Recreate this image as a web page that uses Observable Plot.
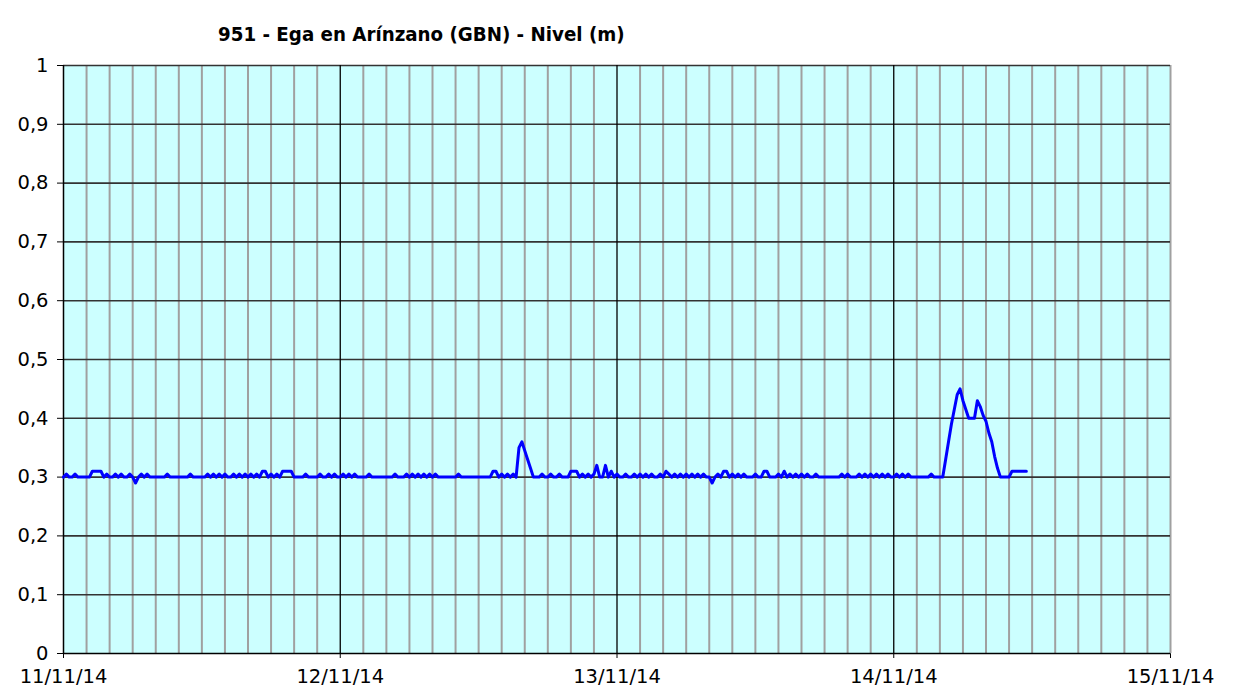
<!DOCTYPE html>
<html>
<head>
<meta charset="utf-8">
<script src="https://cdn.jsdelivr.net/npm/d3@7"></script>
<script src="https://cdn.jsdelivr.net/npm/@observablehq/plot@0.6"></script>
<style>
  html, body { margin: 0; padding: 0; background: #ffffff; }
  #wrap { position: relative; width: 1251px; height: 688px; overflow: hidden; }
  #title { position: absolute; left: 218px; top: 22px; white-space: nowrap;
           font-family: "DejaVu Sans Condensed", "DejaVu Sans", sans-serif; font-stretch: condensed;
           font-weight: bold; font-size: 20px; line-height: 24px; color: #000; }
  #chart { position: absolute; left: 0; top: 0; }
</style>
</head>
<body>
<div id="wrap"><div id="chart"></div><div id="title">951 - Ega en Arínzano (GBN) - Nivel (m)</div></div>
<script>
// ---- data (15-minute readings, level in m) ----
const dayStarts = ["2014-11-11", "2014-11-12", "2014-11-13", "2014-11-14"];
const stepMinutes = 15;

const level11 = [
  0.30,0.305,0.30,0.30,0.305,0.30,0.30,0.30,0.30,0.30,
  0.31,0.31,0.31,0.31,0.30,0.305,0.30,0.30,0.305,0.30,
  0.305,0.30,0.30,0.305,0.30,0.29,0.30,0.305,0.30,0.305,
  0.30,0.30,0.30,0.30,0.30,0.30,0.305,0.30,0.30,0.30,
  0.30,0.30,0.30,0.30,0.305,0.30,0.30,0.30,0.30,0.30,
  0.305,0.30,0.305,0.30,0.305,0.30,0.305,0.30,0.30,0.305,
  0.30,0.305,0.30,0.305,0.30,0.305,0.30,0.305,0.30,0.31,
  0.31,0.30,0.305,0.30,0.305,0.30,0.31,0.31,0.31,0.31,
  0.30,0.30,0.30,0.30,0.305,0.30,0.30,0.30,0.30,0.305,
  0.30,0.30,0.305,0.30,0.305,0.30
];
const level12 = [
  0.30,0.305,0.30,0.305,0.30,0.305,0.30,0.30,0.30,0.30,
  0.305,0.30,0.30,0.30,0.30,0.30,0.30,0.30,0.30,0.305,
  0.30,0.30,0.30,0.305,0.30,0.305,0.30,0.305,0.30,0.305,
  0.30,0.305,0.30,0.305,0.30,0.30,0.30,0.30,0.30,0.30,
  0.30,0.305,0.30,0.30,0.30,0.30,0.30,0.30,0.30,0.30,
  0.30,0.30,0.30,0.31,0.31,0.30,0.305,0.30,0.305,0.30,
  0.305,0.30,0.35,0.36,0.345,0.33,0.315,0.30,0.30,0.30,
  0.305,0.30,0.30,0.305,0.30,0.30,0.305,0.30,0.30,0.30,
  0.31,0.31,0.31,0.30,0.305,0.30,0.305,0.30,0.305,0.32,
  0.30,0.30,0.32,0.30,0.31,0.30
];
const level13 = [
  0.305,0.30,0.30,0.305,0.30,0.30,0.305,0.30,0.305,0.30,
  0.305,0.30,0.305,0.30,0.30,0.305,0.30,0.31,0.305,0.30,
  0.305,0.30,0.305,0.30,0.305,0.30,0.305,0.30,0.305,0.30,
  0.305,0.30,0.30,0.29,0.30,0.305,0.30,0.31,0.31,0.30,
  0.305,0.30,0.305,0.30,0.305,0.30,0.30,0.30,0.305,0.30,
  0.30,0.31,0.31,0.30,0.30,0.30,0.305,0.30,0.31,0.30,
  0.305,0.30,0.305,0.30,0.305,0.30,0.305,0.30,0.30,0.305,
  0.30,0.30,0.30,0.30,0.30,0.30,0.30,0.30,0.305,0.30,
  0.305,0.30,0.30,0.30,0.305,0.30,0.305,0.30,0.305,0.30,
  0.305,0.30,0.305,0.30,0.305,0.30
];
const level14 = [
  0.30,0.305,0.30,0.305,0.30,0.305,0.30,0.30,0.30,0.30,
  0.30,0.30,0.30,0.305,0.30,0.30,0.30,0.30,0.33,0.36,
  0.39,0.415,0.44,0.45,0.43,0.415,0.40,0.40,0.40,0.43,
  0.42,0.405,0.395,0.375,0.36,0.335,0.315,0.30,0.30,0.30,
  0.30,0.31,0.31,0.31,0.31,0.31,0.31
];

// ---- axes ----
const xTickDates = ["2014-11-11", "2014-11-12", "2014-11-13", "2014-11-14", "2014-11-15"];
const xTickLabels = ["11/11/14", "12/11/14", "13/11/14", "14/11/14", "15/11/14"];
const yTicks = [0, 0.1, 0.2, 0.3, 0.4, 0.5, 0.6, 0.7, 0.8, 0.9, 1];
const yTickLabels = ["0", "0,1", "0,2", "0,3", "0,4", "0,5", "0,6", "0,7", "0,8", "0,9", "1"];

const utc = s => new Date(s + "T00:00:00Z");
const series = [level11, level12, level13, level14];
const data = [];
series.forEach((arr, k) => {
  const t0 = utc(dayStarts[k]).getTime();
  arr.forEach((v, i) => data.push({t: new Date(t0 + i * stepMinutes * 60000), v}));
});

const xTicks = xTickDates.map(utc);
const x0 = xTicks[0], x1 = xTicks[xTicks.length - 1];
const xLabelMap = new Map(xTicks.map((d, i) => [+d, xTickLabels[i]]));
const yLabelMap = new Map(yTicks.map((d, i) => [Math.round(d * 10), yTickLabels[i]]));
const minorTicks = d3.utcHour.every(2).range(x0, x1).filter(d => d.getUTCHours() !== 0).concat([x1]);
const innerDays = xTicks.slice(1, -1);

const chart = Plot.plot({
  width: 1251,
  height: 688,
  marginLeft: 63,
  marginRight: 81,
  marginTop: 65,
  marginBottom: 35,
  style: {fontFamily: "'DejaVu Sans', sans-serif", fontSize: "19.5px", background: "transparent", color: "#000", overflow: "visible"},
  x: {type: "utc", domain: [x0, x1], ticks: xTicks, tickFormat: d => xLabelMap.get(+d), tickSize: 5, tickPadding: 11, label: null},
  y: {domain: [0, 1], ticks: yTicks, tickFormat: d => yLabelMap.get(Math.round(d * 10)), tickSize: 6, tickPadding: 9, label: null},
  marks: [
    Plot.frame({fill: "#ccffff", stroke: null}),
    Plot.ruleX(minorTicks, {stroke: "#a0a0a0", strokeWidth: 2}),
    Plot.ruleY(yTicks.slice(1), {stroke: "#333333", strokeWidth: 1.6}),
    Plot.ruleX(innerDays, {stroke: "#000000", strokeWidth: 1.3}),
    Plot.ruleX([x0], {stroke: "#000000", strokeWidth: 1.5}),
    Plot.ruleY([0], {stroke: "#000000", strokeWidth: 1.5}),
    Plot.line(data, {x: "t", y: "v", stroke: "#0000ff", strokeWidth: 3, strokeLinejoin: "round"})
  ]
});
document.getElementById("chart").appendChild(chart);

// fit title to reference width
const title = document.getElementById("title");
const w = title.getBoundingClientRect().width;
title.style.fontSize = (20 * 407 / w).toFixed(2) + "px";
</script>
</body>
</html>
